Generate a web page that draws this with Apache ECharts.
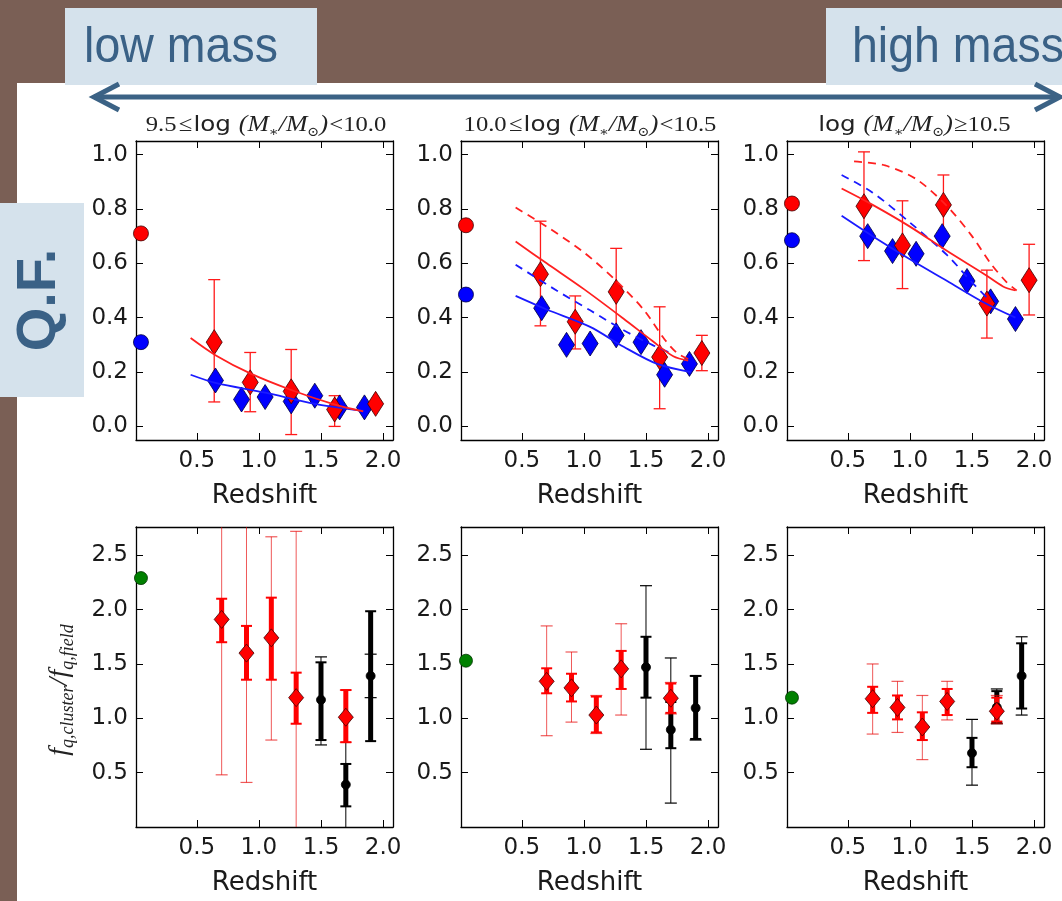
<!DOCTYPE html>
<html>
<head>
<meta charset="utf-8">
<script src="https://cdn.jsdelivr.net/npm/echarts@6/dist/echarts.min.js"></script>
<style>
  html, body { margin: 0; padding: 0; background: #7a5f55; }
  #chart { width: 1062px; height: 901px; }
</style>
</head>
<body>
<div id="chart"></div>
<script>
// ticks
var zTicks = [0.5, 1.0, 1.5, 2.0];
var qfTicks = [0, 0.2, 0.4, 0.6, 0.8, 1.0];
var ratioTicks = [0.5, 1.0, 1.5, 2.0, 2.5];

var panelTitles = [
    '{r|9.5}{r|≤}{s|log }{i|(M}{sub|∗}{i|/M}{sub|⊙}{i|)}{r|<10.0}',
    '{r|10.0}{r|≤}{s|log }{i|(M}{sub|∗}{i|/M}{sub|⊙}{i|)}{r|<10.5}',
    '{s|log }{i|(M}{sub|∗}{i|/M}{sub|⊙}{i|)}{r|≥10.5}'
];

// local (z ~ 0) reference points
var localZ = 0.05;
var localRedQF = [0.71, 0.74, 0.82];
var localBlueQF = [0.31, 0.485, 0.685];
var localRatio = [2.29, 1.53, 1.19];

// QUIESCENT FRACTION, red: [z, qf, lo, hi]
var clusterQFLow = [[0.64, 0.31, 0.09, 0.54], [0.93, 0.162, 0.054, 0.272], [1.26, 0.129, -0.03, 0.283], [1.61, 0.062, 0.0, 0.113], [1.94, 0.083, 0.083, 0.083]];
var clusterQFMid = [[0.65, 0.56, 0.37, 0.755], [0.93, 0.385, 0.285, 0.48], [1.26, 0.495, 0.335, 0.655], [1.61, 0.255, 0.065, 0.44], [1.95, 0.27, 0.205, 0.335]];
var clusterQFHigh = [[0.63, 0.81, 0.61, 1.01], [0.94, 0.666, 0.507, 0.83], [1.27, 0.815, 0.70, 0.925], [1.62, 0.452, 0.325, 0.575], [1.96, 0.538, 0.41, 0.67]];

// blue: [z, qf]
var fieldQFLow = [[0.65, 0.169], [0.86, 0.099], [1.05, 0.108], [1.26, 0.092], [1.45, 0.113], [1.65, 0.07], [1.85, 0.07]];
var fieldQFMid = [[0.66, 0.435], [0.86, 0.30], [1.05, 0.305], [1.26, 0.335], [1.46, 0.31], [1.65, 0.19], [1.85, 0.23]];
var fieldQFHigh = [[0.66, 0.70], [0.86, 0.645], [1.05, 0.635], [1.26, 0.70], [1.46, 0.535], [1.65, 0.46], [1.85, 0.395]];

// model curves
var fitRedLow = [[0.45, 0.325], [0.65, 0.262], [0.93, 0.195], [1.26, 0.134], [1.6, 0.082], [1.84, 0.055]];
var fitBlueLow = [[0.45, 0.19], [0.65, 0.16], [1.05, 0.124], [1.45, 0.083], [1.84, 0.057]];
var fitRedMid = [[0.45, 0.68], [0.7, 0.60], [1.0, 0.505], [1.32, 0.396], [1.55, 0.315], [1.72, 0.258], [1.84, 0.242]];
var fitRedDashMid = [[0.45, 0.805], [0.7, 0.735], [1.0, 0.64], [1.25, 0.54], [1.48, 0.43], [1.65, 0.32], [1.75, 0.27], [1.84, 0.248]];
var fitBlueMid = [[0.45, 0.48], [0.7, 0.43], [1.05, 0.366], [1.32, 0.293], [1.59, 0.23], [1.86, 0.20]];
var fitBlueDashMid = [[0.45, 0.595], [0.78, 0.50], [1.05, 0.427], [1.32, 0.354], [1.55, 0.30], [1.7, 0.27]];
var fitRedHigh = [[0.45, 0.875], [0.7, 0.815], [1.0, 0.735], [1.3, 0.645], [1.6, 0.56], [1.75, 0.515], [1.85, 0.50]];
var fitRedDashHigh = [[0.55, 0.975], [0.8, 0.96], [1.05, 0.91], [1.3, 0.81], [1.5, 0.70], [1.65, 0.60], [1.78, 0.53], [1.86, 0.50]];
var fitBlueHigh = [[0.45, 0.775], [0.7, 0.70], [1.0, 0.615], [1.3, 0.535], [1.6, 0.455], [1.85, 0.40]];
var fitBlueDashHigh = [[0.45, 0.925], [0.7, 0.86], [1.0, 0.75], [1.3, 0.63], [1.5, 0.53], [1.65, 0.46]];

// RATIO, [z, ratio, statLo, statHi, totLo, totHi]
var ratioRedLow = [[0.7, 1.91, 1.70, 2.10, 0.48, 3.2], [0.9, 1.60, 1.355, 1.85, 0.41, 3.2], [1.1, 1.74, 1.355, 2.11, 0.80, 2.67], [1.3, 1.19, 0.95, 1.42, -0.5, 2.72], [1.7, 1.01, 0.78, 1.26, 0.78, 1.26]];
var ratioBlackLow = [[1.5, 1.17, 0.80, 1.515, 0.755, 1.565], [1.7, 0.39, 0.19, 0.58, -0.5, 1.0], [1.9, 1.39, 0.79, 1.985, 1.19, 1.59]];
var ratioRedMid = [[0.7, 1.34, 1.23, 1.46, 0.84, 1.85], [0.9, 1.28, 1.155, 1.41, 0.965, 1.61], [1.1, 1.03, 0.87, 1.20, 0.86, 1.21], [1.3, 1.455, 1.27, 1.62, 1.03, 1.87], [1.7, 1.185, 1.05, 1.32, 1.04, 1.33]];
var ratioBlackMid = [[1.5, 1.47, 1.19, 1.75, 0.715, 2.22], [1.7, 0.895, 0.725, 1.15, 0.22, 1.555], [1.9, 1.095, 0.81, 1.39, 0.80, 1.39]];
var ratioRedHigh = [[0.7, 1.18, 1.05, 1.29, 0.855, 1.50], [0.9, 1.10, 0.99, 1.21, 0.87, 1.34], [1.1, 0.92, 0.80, 1.055, 0.62, 1.21], [1.3, 1.155, 1.03, 1.27, 0.985, 1.34], [1.7, 1.065, 0.97, 1.19, 0.95, 1.21]];
var ratioBlackHigh = [[1.5, 0.68, 0.55, 0.82, 0.385, 0.99], [1.7, 1.10, 0.96, 1.25, 0.95, 1.27], [1.9, 1.39, 1.09, 1.69, 1.03, 1.75]];

var clusterQF = [clusterQFLow, clusterQFMid, clusterQFHigh];
var fieldQF = [fieldQFLow, fieldQFMid, fieldQFHigh];
var fitRed = [fitRedLow, fitRedMid, fitRedHigh];
var fitRedDash = [null, fitRedDashMid, fitRedDashHigh];
var fitBlue = [fitBlueLow, fitBlueMid, fitBlueHigh];
var fitBlueDash = [null, fitBlueDashMid, fitBlueDashHigh];
var ratioRed = [ratioRedLow, ratioRedMid, ratioRedHigh];
var ratioBlack = [ratioBlackLow, ratioBlackMid, ratioBlackHigh];

var dom = document.getElementById('chart');
var myChart = echarts.init(dom, null, { renderer: 'canvas' });

var colLeft = [136, 461, 787];
var textColor = '#1a1a1a';

function fmt(v) {
    return v.toFixed(1);
}

function makeX(grid, pos) {
    var main = pos === 'bottom';
    return {
        type: 'value', gridIndex: grid, position: pos, min: 0.01, max: 2.08,
        axisLine: { show: true, onZero: false, lineStyle: { color: '#000', width: 1.3 } },
        axisTick: { show: true, inside: true, length: 7, customValues: zTicks, lineStyle: { color: '#000', width: 1 } },
        axisLabel: { show: main, customValues: zTicks, margin: 10, formatter: fmt, fontFamily: 'DejaVu Sans', fontSize: 23, color: textColor },
        splitLine: { show: false },
        name: main ? 'Redshift' : '', nameLocation: 'middle', nameGap: 43,
        nameTextStyle: { fontFamily: 'DejaVu Sans', fontSize: 26, color: textColor }
    };
}

function makeY(grid, pos, min, max, ticks) {
    var main = pos === 'left';
    return {
        type: 'value', gridIndex: grid, position: pos, min: min, max: max,
        axisLine: { show: true, onZero: false, lineStyle: { color: '#000', width: 1.3 } },
        axisTick: { show: true, inside: true, length: 7, customValues: ticks, lineStyle: { color: '#000', width: 1 } },
        axisLabel: { show: main, customValues: ticks, margin: 8, formatter: fmt, fontFamily: 'DejaVu Sans', fontSize: 23, color: textColor },
        splitLine: { show: false }
    };
}

function errorBars(grid, data, lo, hi, color, width, capWidth, capLine) {
    return {
        type: 'custom', xAxisIndex: grid * 2, yAxisIndex: grid * 2, silent: true,
        data: data.map(function (d) { return [d[0], d[lo], d[hi]]; }),
        encode: { x: 0, y: [1, 2] },
        renderItem: function (params, api) {
            var rect = params.coordSys;
            var p1 = api.coord([api.value(0), api.value(1)]);
            var p2 = api.coord([api.value(0), api.value(2)]);
            var top = rect.y, bottom = rect.y + rect.height;
            var kids = [];
            if (Math.abs(p1[1] - p2[1]) < 1) {
                return { type: 'group', children: [] };
            }
            var y1 = Math.min(Math.max(p1[1], top), bottom);
            var y2 = Math.min(Math.max(p2[1], top), bottom);
            kids.push({ type: 'line', shape: { x1: p1[0], y1: y1, x2: p2[0], y2: y2 }, style: { stroke: color, lineWidth: width } });
            [p1, p2].forEach(function (p) {
                if (p[1] >= top && p[1] <= bottom) {
                    kids.push({ type: 'line', shape: { x1: p[0] - capWidth / 2, y1: p[1], x2: p[0] + capWidth / 2, y2: p[1] }, style: { stroke: color, lineWidth: capLine } });
                }
            });
            return { type: 'group', children: kids };
        }
    };
}

function scatter(grid, data, symbol, size, color, border) {
    return {
        type: 'scatter', xAxisIndex: grid * 2, yAxisIndex: grid * 2, silent: true,
        data: data, symbol: symbol, symbolSize: size,
        itemStyle: { color: color, borderColor: border, borderWidth: 0.8, opacity: 1 }
    };
}

function curve(grid, data, color, dashed) {
    return {
        type: 'line', xAxisIndex: grid * 2, yAxisIndex: grid * 2, silent: true,
        data: data, smooth: 0.3, showSymbol: false, symbol: 'none',
        lineStyle: { color: color, width: 1.8, type: dashed ? [8, 6] : 'solid' }
    };
}

var grids = [], xAxes = [], yAxes = [], series = [];

for (var i = 0; i < 3; i++) {
    // top row
    grids.push({ left: colLeft[i], top: 141, width: 257, height: 299 });
    xAxes.push(makeX(i, 'bottom'), makeX(i, 'top'));
    yAxes.push(makeY(i, 'left', -0.05, 1.05, qfTicks), makeY(i, 'right', -0.05, 1.05, qfTicks));

    series.push(curve(i, fitBlue[i], '#1a1aff', false));
    if (fitBlueDash[i]) series.push(curve(i, fitBlueDash[i], '#1a1aff', true));
    series.push(curve(i, fitRed[i], '#ff2020', false));
    if (fitRedDash[i]) series.push(curve(i, fitRedDash[i], '#ff2020', true));
    series.push(scatter(i, fieldQF[i], 'diamond', [16, 25], '#0000ff', '#000040'));
    series.push(errorBars(i, clusterQF[i], 2, 3, '#ff1a1a', 1.3, 12, 1.3));
    series.push(scatter(i, clusterQF[i].map(function (d) { return [d[0], d[1]]; }), 'diamond', [16, 25], '#ff0000', '#400000'));
    series.push(scatter(i, [[localZ, localRedQF[i]]], 'circle', 15, '#ff0000', '#400000'));
    series.push(scatter(i, [[localZ, localBlueQF[i]]], 'circle', 15, '#0000ff', '#000040'));
}

for (var j = 0; j < 3; j++) {
    // bottom row
    var g = j + 3;
    grids.push({ left: colLeft[j], top: 527, width: 257, height: 300 });
    xAxes.push(makeX(g, 'bottom'), makeX(g, 'top'));
    yAxes.push(makeY(g, 'left', 0, 2.76, ratioTicks), makeY(g, 'right', 0, 2.76, ratioTicks));

    series.push(errorBars(g, ratioBlack[j], 4, 5, '#000', 1, 12, 1.2));
    series.push(errorBars(g, ratioBlack[j], 2, 3, '#000', 5, 11, 2));
    series.push(scatter(g, ratioBlack[j].map(function (d) { return [d[0], d[1]]; }), 'circle', 9, '#000', '#000'));
    series.push(errorBars(g, ratioRed[j], 4, 5, 'rgba(230,0,0,0.65)', 1, 12, 1.2));
    series.push(errorBars(g, ratioRed[j], 2, 3, '#ff0000', 5, 11, 2));
    series.push(scatter(g, ratioRed[j].map(function (d) { return [d[0], d[1]]; }), 'diamond', [15, 18], '#ff0000', '#400000'));
    series.push(scatter(g, [[localZ, localRatio[j]]], 'circle', 13, '#008000', '#003300'));
}

var titleRich = {
    r: { fontFamily: 'Liberation Serif', fontSize: 22, fill: '#222', lineHeight: 28, verticalAlign: 'middle', padding: [0, 1, 0, 1] },
    s: { fontFamily: 'DejaVu Sans', fontSize: 22, fill: '#222', lineHeight: 28, verticalAlign: 'middle' },
    i: { fontFamily: 'Liberation Serif', fontStyle: 'italic', fontSize: 23, fill: '#222', lineHeight: 28, verticalAlign: 'middle' },
    sub: { fontFamily: 'DejaVu Serif', fontSize: 13, fill: '#222', lineHeight: 15, verticalAlign: 'bottom' }
};

var graphics = [
    { type: 'rect', z: -10, silent: true, shape: { x: 17, y: 83, width: 1045, height: 818 }, style: { fill: '#ffffff' } },
    { type: 'rect', shape: { x: 65, y: 8, width: 252, height: 77 }, style: { fill: '#d5e2ec' } },
    { type: 'rect', shape: { x: 826, y: 8, width: 240, height: 77 }, style: { fill: '#d5e2ec' } },
    { type: 'text', x: 181, y: 48, scaleX: 0.93, style: { text: 'low mass', fontFamily: 'Liberation Sans', fontSize: 50, fill: '#3a6186', align: 'center', verticalAlign: 'middle' } },
    { type: 'text', x: 852, y: 48, scaleX: 0.93, style: { text: 'high mass', fontFamily: 'Liberation Sans', fontSize: 50, fill: '#3a6186', align: 'left', verticalAlign: 'middle' } },
    { type: 'line', shape: { x1: 96, y1: 97, x2: 1057, y2: 97 }, style: { stroke: '#3b6285', lineWidth: 5 } },
    { type: 'polyline', shape: { points: [[119, 84], [94, 97], [119, 110]] }, style: { stroke: '#3b6285', lineWidth: 5, fill: null } },
    { type: 'polyline', shape: { points: [[1035, 84], [1060, 97], [1035, 110]] }, style: { stroke: '#3b6285', lineWidth: 5, fill: null } },
    { type: 'rect', shape: { x: 0, y: 203, width: 84, height: 194 }, style: { fill: '#d5e2ec' } },
    { type: 'text', x: 40, y: 300, rotation: Math.PI / 2, style: { text: 'Q.F.', fontFamily: 'Liberation Sans', fontWeight: 'bold', fontSize: 56, fill: '#3a6186', align: 'center', verticalAlign: 'middle' } },
    {
        type: 'text', x: 60, y: 690, rotation: Math.PI / 2,
        style: {
            text: '{f|f}{sub|q,cluster}{f|/}{f|f}{sub|q,field}', align: 'center', verticalAlign: 'middle',
            rich: {
                f: { fontFamily: 'Liberation Serif', fontStyle: 'italic', fontSize: 28, fill: '#222', lineHeight: 34, verticalAlign: 'middle' },
                sub: { fontFamily: 'Liberation Serif', fontStyle: 'italic', fontSize: 18, fill: '#222', lineHeight: 18, verticalAlign: 'bottom' }
            }
        }
    }
];

var titleCenter = [266, 590, 915];
for (var k = 0; k < 3; k++) {
    graphics.push({
        type: 'text', x: titleCenter[k], y: 125, scaleX: 1.12,
        style: { text: panelTitles[k], rich: titleRich, align: 'center', verticalAlign: 'middle' }
    });
}

var option = {
    backgroundColor: '#7a5f55',
    animation: false,
    grid: grids,
    xAxis: xAxes,
    yAxis: yAxes,
    series: series,
    graphic: graphics
};

myChart.setOption(option);
</script>
</body>
</html>
